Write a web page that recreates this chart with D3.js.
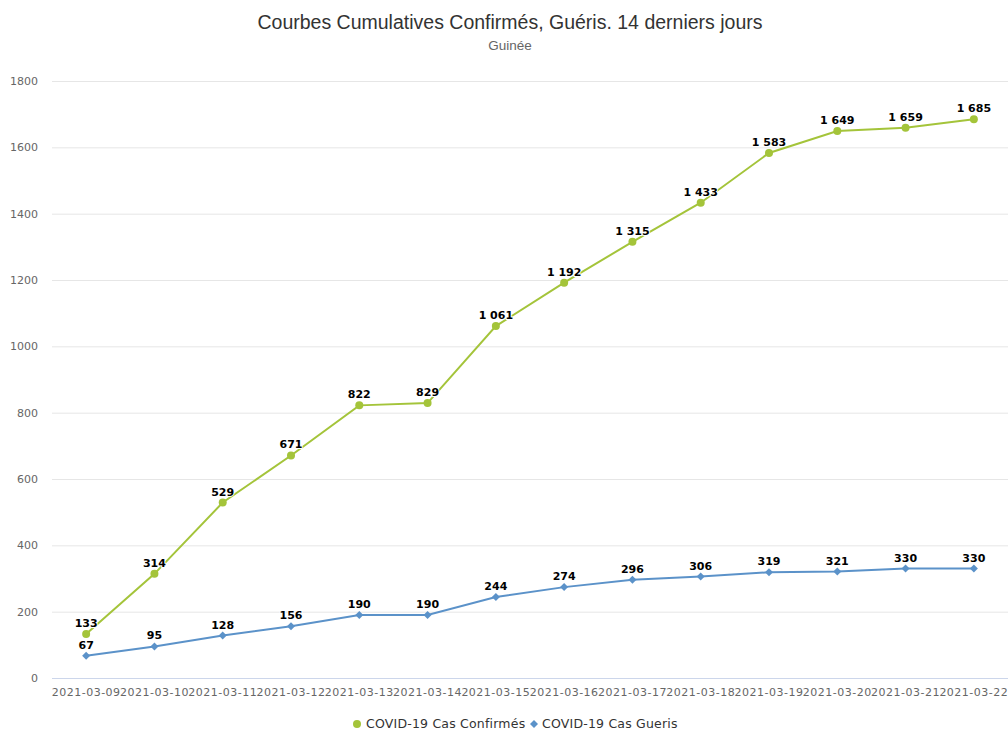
<!DOCTYPE html>
<html><head><meta charset="utf-8">
<script src="https://cdn.jsdelivr.net/npm/d3@7"></script>
<style>body{margin:0;background:#fff}svg{display:block}</style>
</head><body>
<script>
const categories = ["2021-03-09","2021-03-10","2021-03-11","2021-03-12","2021-03-13","2021-03-14","2021-03-15","2021-03-16","2021-03-17","2021-03-18","2021-03-19","2021-03-20","2021-03-21","2021-03-22"];
const confirmes = [133,314,529,671,822,829,1061,1192,1315,1433,1583,1649,1659,1685];
const gueris = [67,95,128,156,190,190,244,274,296,306,319,321,330,330];
const yTicks = [0,200,400,600,800,1000,1200,1400,1600,1800];
const seriesNames = ["COVID-19 Cas Confirmés","COVID-19 Cas Gueris"];
const colors = ["#a4c43a","#5b92c9"];

const W=1008,H=731;
const svg=d3.select("body").append("svg").attr("width",W).attr("height",H);
const font="'DejaVu Sans', sans-serif";
const x=d3.scaleBand().domain(categories).range([52,1008]);
const y=d3.scaleLinear().domain([0,1800]).range([678,81]);

svg.append("text").attr("x",510).attr("y",29).attr("text-anchor","middle")
 .attr("font-family","'Liberation Sans', sans-serif").attr("font-size",19.5).attr("fill","#333")
 .text("Courbes Cumulatives Confirmés, Guéris. 14 derniers jours");
svg.append("text").attr("x",510).attr("y",50).attr("text-anchor","middle")
 .attr("font-family","'Liberation Sans', sans-serif").attr("font-size",13.5).attr("fill","#666").text("Guinée");

const g=svg.append("g");
g.selectAll("line.grid").data(yTicks.filter(d=>d>0)).join("line")
 .attr("x1",52).attr("x2",1008).attr("y1",d=>y(d)+0.5).attr("y2",d=>y(d)+0.5)
 .attr("stroke","#e6e6e6");
g.append("line").attr("x1",52).attr("x2",1008).attr("y1",y(0)+0.5).attr("y2",y(0)+0.5).attr("stroke","#ccd6eb");
g.selectAll("text.yl").data(yTicks).join("text")
 .attr("x",38).attr("y",d=>y(d)+4).attr("text-anchor","end")
 .attr("font-family",font).attr("font-size",11).attr("fill","#666").text(d=>d);
g.selectAll("text.xl").data(categories).join("text")
 .attr("x",d=>x(d)+x.bandwidth()/2).attr("y",696).attr("text-anchor","middle")
 .attr("font-family",font).attr("font-size",11).attr("letter-spacing",0.5).attr("fill","#666").text(d=>d);

const fmt=v=>{const s=String(v);return s.length>3?s.slice(0,s.length-3)+" "+s.slice(-3):s;};
const cx=(d,i)=>x(categories[i])+x.bandwidth()/2;
const line=d3.line().x((d,i)=>cx(d,i)).y(d=>y(d));
[confirmes,gueris].forEach((data,k)=>{
  svg.append("path").attr("d",line(data)).attr("fill","none").attr("stroke",colors[k]).attr("stroke-width",2);
  if(k===0){
    svg.selectAll(null).data(data).join("circle").attr("cx",cx).attr("cy",d=>y(d)).attr("r",4).attr("fill",colors[k]);
  } else {
    svg.selectAll(null).data(data).join("path")
      .attr("d","M0,-4L4,0L0,4L-4,0Z").attr("transform",(d,i)=>`translate(${cx(d,i)},${y(d)})`).attr("fill",colors[k]);
  }
  svg.selectAll(null).data(data).join("text")
   .attr("x",cx).attr("y",d=>y(d)-7).attr("text-anchor","middle")
   .attr("font-family",font).attr("font-size",11).attr("font-weight","bold").attr("fill","#000")
   .attr("stroke","#fff").attr("stroke-width",2).attr("paint-order","stroke").attr("stroke-linejoin","round")
   .text(d=>fmt(d));
});

// legend
const lg=svg.append("g").attr("font-family",font).attr("font-size",12.5).attr("letter-spacing",0.2).attr("fill","#333");
lg.append("circle").attr("cx",357).attr("cy",724).attr("r",4).attr("fill",colors[0]);
lg.append("text").attr("x",366).attr("y",728).text(seriesNames[0]);
lg.append("path").attr("d","M0,-4L4,0L0,4L-4,0Z").attr("transform","translate(534,724)").attr("fill",colors[1]);
lg.append("text").attr("x",542).attr("y",728).text(seriesNames[1]);
</script>
</body></html>
